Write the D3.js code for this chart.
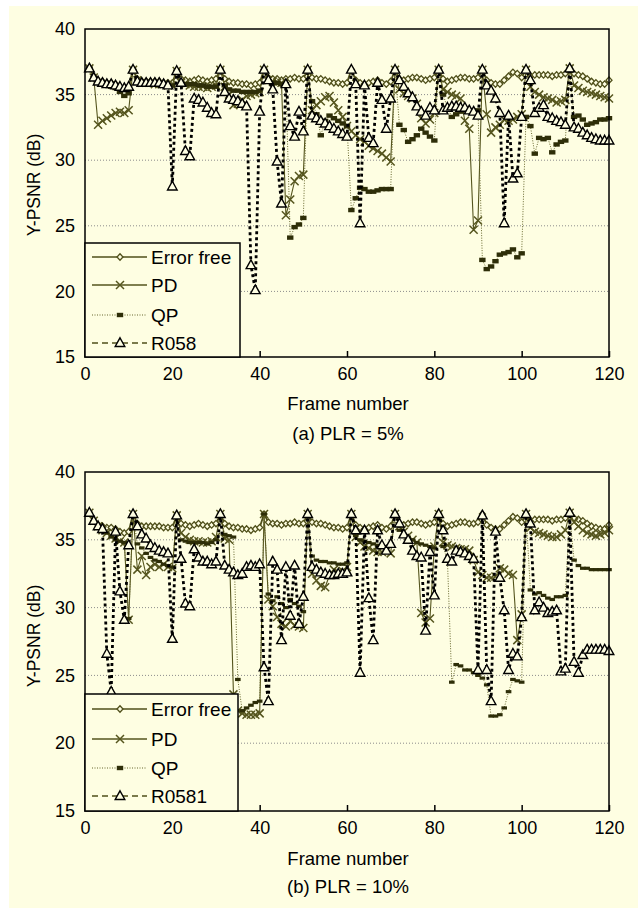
<!DOCTYPE html>
<html>
<head>
<meta charset="utf-8">
<script src="https://cdn.jsdelivr.net/npm/d3@7"></script>
<style>
  body { margin: 0; background: #fff; }
  text { font-family: "Liberation Sans", Arial, sans-serif; fill: #000; }
</style>
</head>
<body>
<script>
// frame numbers 1..120
const FRAMES = d3.range(1, 121);
const X_TICKS = [0, 20, 40, 60, 80, 100, 120];
const Y_TICKS = [15, 20, 25, 30, 35, 40];
const GRID_VALUES = [20, 25, 30, 35];

const ERROR_FREE = [
  37.0, 36.4, 36.1, 36.0, 35.9, 35.9, 35.8, 35.6, 35.5, 35.6,
  36.9, 36.2, 36.0, 36.0, 36.0, 36.0, 36.0, 35.9, 35.9, 35.9,
  36.8, 36.2, 36.1, 36.0, 36.1, 36.2, 36.1, 36.0, 36.1, 36.2,
  36.9, 36.2, 36.0, 35.9, 35.9, 35.8, 35.8, 35.7, 35.8, 35.9,
  36.9, 36.3, 36.2, 36.2, 36.1, 36.2, 36.2, 36.3, 36.2, 36.2,
  36.9, 36.3, 36.2, 36.2, 36.1, 36.0, 35.9, 35.9, 35.8, 35.9,
  36.9, 36.1, 35.9, 35.8, 35.9, 36.0, 36.1, 35.9, 35.8, 36.0,
  36.9, 36.2, 36.1, 36.2, 36.3, 36.3, 36.2, 36.1, 36.2, 36.3,
  36.9, 36.2, 36.0, 36.1, 36.2, 36.3, 36.3, 36.2, 36.2, 36.3,
  36.9, 36.1, 35.9, 35.8, 35.8, 36.1, 36.4, 36.7, 36.6, 36.3,
  36.9, 36.4, 36.5, 36.5, 36.5, 36.5, 36.4, 36.5, 36.5, 36.6,
  37.0, 36.6, 36.5, 36.4, 36.2, 36.0, 35.9, 35.8, 35.8, 36.1
];

// (a) PLR = 5%
const PD_5 = [
  37.0, 36.3, 32.7, 33.0, 33.2, 33.4, 33.6, 33.7, 33.6, 33.8,
  36.9, 36.1, 35.9, 35.9, 35.9, 35.8, 35.8, 35.8, 35.7, 35.7,
  36.8, 35.9, 35.8, 35.7, 35.6, 35.6, 35.6, 35.5, 35.6, 35.7,
  36.9, 35.6, 35.0, 34.2, 34.3, 34.6, 34.9, 35.0, 35.1, 35.2,
  36.9, 36.1, 36.0, 35.9, 35.9, 25.8, 27.0, 28.4, 28.8, 28.9,
  36.9, 33.8, 34.2, 34.5, 34.8, 34.9, 34.4, 33.8, 33.3, 32.6,
  32.2, 31.9, 31.6, 31.4, 31.1, 30.9, 30.7, 30.5, 30.2, 29.9,
  36.9, 35.4, 35.1, 34.9, 34.7, 34.3, 33.2, 32.8, 33.1, 33.6,
  36.9, 35.4, 35.2, 35.0, 34.9, 34.7, 33.0, 32.4, 24.7, 25.4,
  36.9, 33.5, 32.1, 32.5, 32.7, 33.1, 33.0, 33.1, 33.3, 33.5,
  36.9, 35.6, 35.2, 35.0, 34.8, 34.7, 34.6, 34.4, 34.5, 34.6,
  37.0, 35.7, 35.5, 35.3, 35.2, 35.1, 35.0, 34.9, 34.8, 34.7
];
const QP_5 = [
  37.0, 36.2, 35.9, 35.8, 35.7, 35.6, 35.5, 35.2, 34.9, 35.1,
  36.9, 36.0, 35.9, 35.9, 35.9, 35.8, 35.8, 35.8, 35.7, 35.7,
  36.8, 35.9, 35.8, 35.8, 35.8, 35.7, 35.7, 35.6, 35.6, 35.6,
  36.9, 35.7, 35.4, 35.3, 35.3, 35.2, 35.2, 35.2, 35.2, 35.3,
  36.9, 36.0, 35.9, 35.9, 35.8, 35.8, 24.1, 24.9, 25.1, 25.6,
  36.9, 34.5, 33.5, 31.9, 33.0, 33.4, 33.2, 33.0, 32.8, 32.6,
  26.2, 27.1, 27.9, 27.8, 27.6, 27.6, 27.7, 27.8, 27.8, 27.8,
  36.9, 32.7, 32.3, 31.4, 31.6, 31.9, 32.4, 32.1, 31.8, 31.5,
  36.9, 35.0, 34.0, 33.3, 33.5, 33.7, 33.8, 33.8, 33.7, 33.8,
  22.4, 21.7, 21.9, 22.3, 22.8, 22.9, 23.0, 23.2, 22.6, 22.9,
  33.3, 32.6, 30.5, 31.7, 31.6, 31.7, 30.6, 31.2, 31.4, 31.5,
  36.8, 33.3, 33.4, 33.1, 32.7, 32.8, 32.9, 33.1, 33.1, 33.2
];
const R058_5 = [
  37.0, 36.3, 36.0, 35.9, 35.8, 35.8, 35.7, 35.6, 35.5, 35.6,
  36.9, 36.0, 35.9, 35.9, 35.9, 35.9, 35.9, 35.8, 35.7, 28.0,
  36.8, 35.9, 30.7, 30.3, 34.7, 34.6, 34.4, 34.0, 33.6, 33.5,
  36.9, 35.2, 34.7, 34.6, 34.5, 34.3, 34.1, 22.0, 20.1, 33.7,
  36.9, 36.1, 35.4, 29.9, 26.7, 35.8, 32.6, 31.8, 33.7, 32.2,
  36.9, 33.4, 33.2, 33.0, 32.8, 32.6, 32.4, 32.2, 32.0, 31.8,
  36.9, 35.8, 25.2, 35.7, 31.7, 31.3, 35.9, 34.6, 32.4, 34.7,
  36.9, 36.1, 35.6, 35.1, 34.8, 34.1, 33.7, 33.4, 34.0, 33.8,
  36.9, 33.8, 34.0, 34.1, 34.1, 34.0, 34.0, 33.8, 33.7, 33.4,
  36.9, 35.7, 35.3, 34.7, 33.6, 25.2, 33.4, 28.6, 29.0, 33.3,
  36.9, 36.1, 33.6, 34.0, 34.2, 33.3, 33.2, 33.0, 32.9, 32.7,
  37.0, 32.5, 32.4, 32.1, 31.9, 31.7, 31.6, 31.5, 31.5, 31.5
];

// (b) PLR = 10%
const PD_10 = [
  37.0, 36.4, 36.0, 35.7, 35.5, 35.3, 35.1, 34.9, 34.8, 29.1,
  36.9, 32.8, 33.8, 32.4, 33.0, 33.2, 33.0, 33.2, 33.0, 32.9,
  36.8, 35.5, 35.2, 35.0, 34.9, 34.9, 34.8, 34.8, 34.9, 35.2,
  36.9, 35.1, 35.0, 23.6, 22.4, 22.2, 22.1, 22.1, 22.1, 22.2,
  36.9, 30.6, 30.1, 29.3, 28.8, 28.6, 29.0, 28.7, 28.6, 28.5,
  36.9, 32.5, 32.0, 31.6, 31.5, 32.4, 32.8, 32.6, 32.7, 33.0,
  36.9, 35.2, 34.8, 34.5, 34.4, 34.2, 34.1, 34.1, 34.2, 34.0,
  36.9, 36.0, 35.6, 35.3, 35.0, 34.8, 29.6, 28.9, 29.2, 34.5,
  36.9, 34.8, 34.6, 34.5, 34.4, 34.3, 34.3, 34.2, 33.5, 32.6,
  32.4, 32.2, 32.2, 32.3, 32.9, 32.8, 32.5, 32.4, 27.6, 29.5,
  36.9, 35.9, 35.6, 35.5, 35.4, 35.3, 35.2, 35.2, 35.4, 35.7,
  37.0, 36.3, 36.0, 35.7, 35.5, 35.4, 35.3, 35.4, 35.5, 35.7
];
const QP_10 = [
  37.0, 36.3, 36.0, 35.7, 35.5, 35.2, 35.0, 34.9, 34.8, 29.2,
  36.9, 34.7, 34.4, 34.0, 33.7, 33.5, 33.4, 33.2, 33.1, 33.0,
  36.8, 35.0, 34.9, 34.8, 34.8, 34.8, 34.8, 34.7, 34.8, 35.0,
  36.9, 35.4, 35.3, 35.2, 24.7, 22.4, 22.6, 22.8, 23.0, 23.1,
  36.9, 31.0, 30.5, 30.8, 30.3, 30.0, 30.6, 30.3, 30.1, 29.7,
  36.9, 33.8, 33.5, 33.4, 33.4, 33.3, 33.3, 33.2, 33.2, 33.3,
  36.9, 35.3, 35.0, 34.9, 34.8, 34.7, 34.6, 34.5, 34.5, 34.7,
  36.9, 35.7, 35.4, 35.2, 35.0, 34.8, 34.7, 34.6, 34.5, 34.4,
  36.9, 34.5, 33.5, 24.5, 25.8, 25.7, 25.4, 25.4, 25.2, 25.0,
  24.8, 24.3, 22.0, 22.0, 22.1, 22.6, 23.8, 24.7, 24.6, 24.5,
  36.9, 31.3, 31.0, 31.1, 30.9, 30.7, 30.6, 30.8, 30.8, 30.9,
  36.9, 33.5, 33.1, 32.9, 32.9, 32.8, 32.8, 32.8, 32.8, 32.8
];
const R0581_10 = [
  37.0, 36.4, 36.0, 35.8, 26.6, 23.8, 35.6, 31.2, 29.1, 34.6,
  36.9, 36.0, 35.4, 35.1, 34.6, 34.4, 34.2, 34.1, 34.0, 27.7,
  36.8, 33.6, 30.3, 30.1, 34.3, 33.7, 33.4, 33.4, 33.2, 33.4,
  36.9, 33.1, 32.8, 32.6, 32.4, 32.5, 33.0, 33.1, 33.0, 33.2,
  25.6, 23.1, 33.4, 32.8, 27.6, 33.0, 29.4, 33.1, 28.8, 30.8,
  36.9, 33.0, 32.8, 32.6, 32.5, 32.4, 32.4, 32.5, 32.5, 32.6,
  36.9, 35.7, 25.2, 35.7, 30.7, 27.6, 35.7, 34.6, 34.2, 34.7,
  36.9, 36.2, 35.4, 35.0, 34.2, 33.8, 33.7, 28.3, 34.1, 30.9,
  36.9, 35.7, 33.6, 33.4, 34.2, 34.1, 34.0, 33.8, 33.6, 25.4,
  36.8, 25.4, 23.1, 35.6, 32.2, 29.8, 25.4, 26.6, 26.4, 29.3,
  36.9, 36.2, 29.8, 30.4, 30.0, 29.6, 29.7, 29.8, 25.3, 25.5,
  37.0, 26.0, 25.2, 26.5, 26.9, 26.9, 26.9, 26.9, 26.9, 26.8
];

const BG = "#fefee2";
const OLIVE = "#4f4f1a";
const PD_OLIVE = "#55551e";
const DARK_OLIVE = "#2e2e08";

const SHAPES = {
  diamond: "M0,-3.2L3,0L0,3.2L-3,0Z",
  cross: "M-4,-4L4,4M-4,4L4,-4",
  bar: "M-3.2,-2.2H3.2V2.2H-3.2Z",
  smallBar: "M-2.8,-1.6H2.8V1.6H-2.8Z",
  triangle: "M0,-5.2L4.8,3.5H-4.8Z"
};

const SVG = d3.select("body").append("svg")
  .attr("width", 638)
  .attr("height", 911);

SVG.append("rect").attr("width", 638).attr("height", 911).attr("fill", "#fff");
SVG.append("rect")
  .attr("x", 9).attr("y", 6)
  .attr("width", 629).attr("height", 902)
  .attr("fill", BG);

function drawPanel(p) {
  const X_SCALE = d3.scaleLinear().domain([0, 120]).range([85, 609]);
  const Y_SCALE = d3.scaleLinear().domain([15, 40]).range([p.bottom, p.top]);
  const G = SVG.append("g");

  G.selectAll(".grid")
    .data(GRID_VALUES)
    .enter()
    .append("line")
    .attr("x1", X_SCALE(0))
    .attr("x2", X_SCALE(120))
    .attr("y1", (d) => Y_SCALE(d))
    .attr("y2", (d) => Y_SCALE(d))
    .attr("stroke", "#8c8c8c")
    .attr("stroke-dasharray", "1,2");

  const X_AXIS = G.append("g")
    .attr("transform", "translate(0, " + p.bottom + ")")
    .call(d3.axisBottom(X_SCALE).tickValues(X_TICKS)
      .tickSizeInner(-6).tickSizeOuter(0).tickPadding(10));
  X_AXIS.select(".domain").remove();
  X_AXIS.selectAll("line").attr("stroke", "#000").attr("stroke-width", 1.5);
  X_AXIS.selectAll("text").attr("font-size", 18).attr("font-family", null);

  const Y_AXIS = G.append("g")
    .attr("transform", "translate(85, 0)")
    .call(d3.axisLeft(Y_SCALE).tickValues(Y_TICKS)
      .tickSizeInner(0).tickSizeOuter(0).tickPadding(10));
  Y_AXIS.select(".domain").remove();
  Y_AXIS.selectAll("text").attr("font-size", 18).attr("font-family", null);

  p.series.forEach((s) => {
    const PTS = FRAMES.map((f, i) => [f, s.values[i]]);
    G.append("path")
      .datum(PTS)
      .attr("fill", "none")
      .attr("stroke", s.stroke)
      .attr("stroke-width", s.width)
      .attr("stroke-dasharray", s.dash)
      .attr("d", d3.line().x((d) => X_SCALE(d[0])).y((d) => Y_SCALE(d[1])));
    G.append("g")
      .selectAll("path")
      .data(PTS)
      .enter()
      .append("path")
      .attr("transform", (d) => "translate(" + X_SCALE(d[0]) + "," + Y_SCALE(d[1]) + ")")
      .attr("d", s.shape)
      .attr("fill", s.markerFill)
      .attr("stroke", s.markerStroke)
      .attr("stroke-width", s.markerWidth);
  });

  // plot frame
  G.append("rect")
    .attr("x", X_SCALE(0))
    .attr("y", p.top)
    .attr("width", X_SCALE(120) - X_SCALE(0))
    .attr("height", p.bottom - p.top)
    .attr("fill", "none")
    .attr("stroke", "#000")
    .attr("stroke-width", 1.5);

  // legend
  const L = p.legend;
  G.append("rect")
    .attr("x", 85).attr("y", L.top)
    .attr("width", L.right - 85).attr("height", p.bottom - L.top)
    .attr("fill", BG)
    .attr("stroke", "#000")
    .attr("stroke-width", 1.5);
  p.series.forEach((s, i) => {
    const Y = L.rows[i];
    G.append("line")
      .attr("x1", 92).attr("x2", 147)
      .attr("y1", Y).attr("y2", Y)
      .attr("stroke", s.legendStroke)
      .attr("stroke-width", s.legendWidth)
      .attr("stroke-dasharray", s.legendDash);
    G.append("path")
      .attr("transform", "translate(120," + Y + ")")
      .attr("d", s.legendShape || s.shape)
      .attr("fill", s.markerFill)
      .attr("stroke", s.markerStroke)
      .attr("stroke-width", s.markerWidth);
    G.append("text")
      .attr("x", 151).attr("y", Y)
      .attr("dy", "0.36em")
      .attr("font-size", 19)
      .text(s.name);
  });

  // titles
  G.append("text")
    .attr("transform", "translate(40," + p.labelY + ") rotate(-90)")
    .attr("text-anchor", "middle")
    .attr("font-size", 17.5)
    .text("Y-PSNR (dB)");
  G.append("text")
    .attr("x", 348).attr("y", p.xTitleY)
    .attr("text-anchor", "middle")
    .attr("font-size", 18.5)
    .text("Frame number");
  G.append("text")
    .attr("x", 348).attr("y", p.captionY)
    .attr("text-anchor", "middle")
    .attr("font-size", 18.5)
    .text(p.caption);
}

function seriesSet(pd, qp, r, rName, barShape) {
  return [
    { name: "Error free", values: ERROR_FREE, stroke: OLIVE, width: 1.8, dash: null,
      shape: SHAPES.diamond, markerFill: BG, markerStroke: OLIVE, markerWidth: 1.3,
      legendStroke: OLIVE, legendWidth: 1.5, legendDash: null },
    { name: "PD", values: pd, stroke: PD_OLIVE, width: 1.1, dash: null,
      shape: SHAPES.cross, markerFill: "none", markerStroke: PD_OLIVE, markerWidth: 1.5,
      legendStroke: PD_OLIVE, legendWidth: 1.5, legendDash: null },
    { name: "QP", values: qp, stroke: "#66662c", width: 1, dash: "1,1.5",
      shape: barShape, legendShape: SHAPES.bar, markerFill: DARK_OLIVE, markerStroke: "none", markerWidth: 0,
      legendStroke: "#66662c", legendWidth: 1, legendDash: "1,1.5" },
    { name: rName, values: r, stroke: "#000", width: 2.8, dash: "3,3",
      shape: SHAPES.triangle, markerFill: BG, markerStroke: "#000", markerWidth: 1.4,
      legendStroke: OLIVE, legendWidth: 1.5, legendDash: "6,4" }
  ];
}

drawPanel({
  top: 29, bottom: 357, labelY: 185,
  xTitleY: 410, captionY: 440, caption: "(a) PLR = 5%",
  legend: { top: 243, right: 240, rows: [257, 285, 315, 343] },
  series: seriesSet(PD_5, QP_5, R058_5, "R058", SHAPES.bar)
});

drawPanel({
  top: 472, bottom: 811, labelY: 636,
  xTitleY: 865, captionY: 893, caption: "(b) PLR = 10%",
  legend: { top: 694, right: 238, rows: [709, 739, 768, 796] },
  series: seriesSet(PD_10, QP_10, R0581_10, "R0581", SHAPES.smallBar)
});
</script>
</body>
</html>
